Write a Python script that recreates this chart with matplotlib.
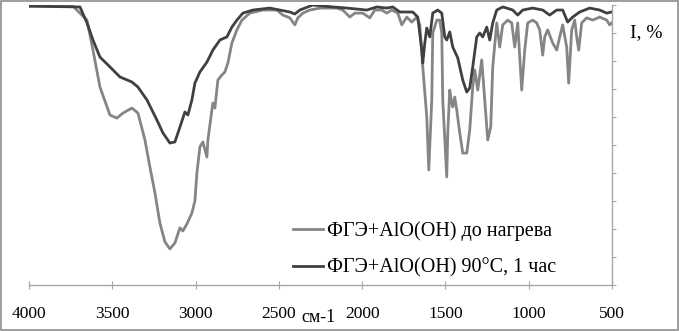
import numpy as np
import matplotlib.pyplot as plt
from matplotlib.patches import Rectangle

# --------------------------------------------------
# IR spectra (wavenumber, cm-1 / I, %)
# --------------------------------------------------

wn_before = [4000, 3736, 3652, 3616, 3574, 3514, 3472, 3436, 3382, 3346, 3304, 3274,
             3244, 3214, 3184, 3154, 3124, 3094, 3076, 3052, 3022, 3004, 2992, 2974,
             2956, 2932, 2926, 2902, 2896, 2884, 2866, 2842, 2824, 2806, 2782, 2752,
             2722, 2674, 2596, 2512, 2476, 2434, 2404, 2386, 2356, 2314, 2254, 2152,
             2116, 2074, 2044, 1996, 1954, 1924, 1882, 1852, 1822, 1786, 1762, 1732,
             1702, 1672, 1654, 1636, 1612, 1600, 1582, 1576, 1552, 1534, 1522, 1516,
             1492, 1486, 1474, 1462, 1456, 1444, 1432, 1414, 1396, 1372, 1354, 1336,
             1324, 1306, 1282, 1264, 1246, 1228, 1216, 1192, 1174, 1156, 1126, 1102,
             1084, 1066, 1042, 1024, 1006, 976, 952, 934, 916, 904, 886, 856,
             832, 814, 796, 772, 760, 742, 724, 712, 700, 682, 652, 616,
             574, 532, 514, 502]
i_before = [99.6, 99.6, 94.6, 83.9, 70.7, 60.7, 59.6, 61.4, 63.2, 61.4, 51.8, 42.1,
            32.9, 22.1, 15.4, 12.9, 15.0, 20.4, 19.3, 21.8, 25.7, 30.0, 40.0, 49.3,
            51.1, 45.7, 51.8, 62.5, 65.0, 63.2, 73.2, 75.0, 76.1, 79.3, 86.4, 91.1,
            94.6, 97.1, 98.2, 98.2, 96.4, 95.4, 92.9, 95.4, 97.1, 98.2, 98.9, 98.9,
            98.2, 95.7, 97.1, 97.1, 95.4, 98.2, 98.2, 97.1, 98.2, 97.1, 92.9, 95.7,
            93.9, 95.7, 92.9, 77.9, 60.0, 41.1, 66.1, 90.0, 94.6, 94.6, 90.0, 66.1,
            38.6, 54.3, 69.6, 65.0, 63.6, 67.1, 62.5, 54.3, 47.1, 47.1, 55.4, 70.7,
            76.8, 69.6, 80.4, 66.1, 51.8, 56.4, 77.9, 93.6, 85.0, 92.9, 94.6, 93.6,
            85.0, 93.6, 69.6, 83.9, 93.6, 94.6, 93.6, 91.1, 82.1, 88.6, 91.1, 86.4,
            83.9, 88.6, 92.9, 85.0, 72.1, 91.1, 94.6, 88.6, 83.9, 93.6, 95.4, 94.6,
            95.7, 94.6, 92.9, 93.6]

wn_heated = [4000, 3694, 3652, 3616, 3574, 3514, 3454, 3382, 3346, 3292, 3232, 3196,
             3154, 3124, 3094, 3064, 3046, 3022, 3004, 2974, 2932, 2896, 2854, 2812,
             2782, 2752, 2716, 2656, 2554, 2494, 2434, 2404, 2374, 2296, 2176, 2092,
             1972, 1912, 1852, 1816, 1774, 1696, 1666, 1642, 1636, 1624, 1612, 1594,
             1576, 1546, 1522, 1504, 1492, 1474, 1456, 1426, 1396, 1372, 1354, 1336,
             1312, 1294, 1276, 1252, 1234, 1216, 1192, 1156, 1132, 1096, 1066, 1036,
             976, 916, 874, 832, 796, 766, 736, 694, 634, 574, 532, 502]
i_heated = [99.6, 99.3, 93.6, 87.5, 81.4, 77.9, 74.3, 72.5, 70.7, 66.1, 58.9, 54.3,
            50.7, 51.1, 56.4, 61.8, 60.7, 66.1, 72.1, 76.1, 79.6, 83.9, 87.5, 88.6,
            92.1, 94.6, 97.1, 98.2, 98.9, 98.2, 97.5, 96.8, 98.2, 100.0, 99.3, 98.9,
            98.2, 99.3, 98.9, 99.3, 97.5, 97.5, 95.7, 83.9, 79.3, 86.4, 91.8, 88.6,
            97.1, 98.2, 97.1, 88.6, 87.5, 90.4, 85.0, 81.1, 73.2, 68.9, 70.4, 77.9,
            88.6, 90.0, 88.6, 92.1, 87.5, 93.6, 98.2, 99.3, 98.9, 98.2, 96.4, 98.2,
            98.9, 98.2, 96.4, 98.2, 98.2, 93.9, 95.7, 97.5, 98.9, 98.2, 97.1, 97.5]

labels = ["ФГЭ+AlO(OH) до нагрева", "ФГЭ+AlO(OH) 90°C, 1 час"]
x_ticks = [4000, 3500, 3000, 2500, 2000, 1500, 1000, 500]

# --------------------------------------------------
# Plot
# --------------------------------------------------

plt.rcParams["font.family"] = ["Liberation Serif", "DejaVu Serif"]
plt.rcParams["font.size"] = 12.5

fig = plt.figure(figsize=(6.79, 3.31), dpi=100)
ax = fig.add_axes([29 / 679, 1 - 285 / 331, 583 / 679, 280 / 331])

ax.plot(wn_before, i_before, color="#858585", lw=2.0, label=labels[0])
ax.plot(wn_heated, i_heated, color="#404040", lw=2.0, label=labels[1])

ax.set_xlim(4000, 500)
ax.set_ylim(0, 100)
ax.set_xticks(x_ticks)
ax.set_yticks(np.arange(0, 101, 10))

for side in ["left", "top"]:
    ax.spines[side].set_visible(False)
for side in ["right", "bottom"]:
    ax.spines[side].set_color("#a6a6a6")
    ax.spines[side].set_linewidth(1.0)

ax.yaxis.tick_right()
ax.tick_params(axis="y", direction="out", length=3, color="#a6a6a6", labelright=False)
ax.tick_params(axis="x", direction="inout", length=6, color="#a6a6a6", pad=12)

ax.legend(loc="center left", bbox_to_anchor=(293 / 679, 1 - 249.5 / 331),
          bbox_transform=fig.transFigure, frameon=False, borderpad=0,
          borderaxespad=0, fontsize=14.5, handlelength=1.5,
          handletextpad=0.2, labelspacing=0.85)

fig.text(646 / 679, 1 - 33 / 331, "I, %", ha="center", va="center", fontsize=14)
fig.text(319 / 679, 1 - 318 / 331, "см-1", ha="center", va="center", fontsize=13)

# outer frame of the picture
fig.patches.append(Rectangle((0.001, 0.002), 0.997, 0.995, transform=fig.transFigure,
                             fill=False, edgecolor="#8c8c8c", lw=1.2))

fig.savefig("out.png", dpi=100)
